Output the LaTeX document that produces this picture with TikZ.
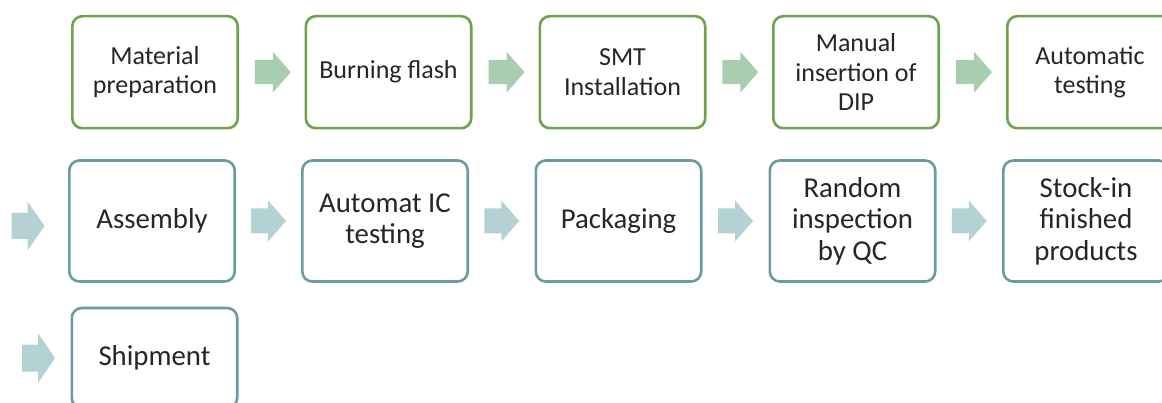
\documentclass[tikz,border=0pt]{standalone}
\usepackage{fontspec}
\setmainfont{Carlito}
\usetikzlibrary{calc}
\definecolor{gline}{HTML}{70A24A}
\definecolor{garr}{HTML}{A9CEAF}
\definecolor{tline}{HTML}{6A9C9E}
\definecolor{tarr}{HTML}{B4D2D3}
\definecolor{txt}{HTML}{262626}
\newcommand\blockarrow[6]{%
  \begin{scope}[shift={(#1)}]
    \fill[#6] ({-#2/2},{-#5/2}) -- ({#2/2-#3},{-#5/2}) -- ({#2/2-#3},{-#4/2}) -- ({#2/2},0)
      -- ({#2/2-#3},{#4/2}) -- ({#2/2-#3},{#5/2}) -- ({-#2/2},{#5/2}) -- cycle;
  \end{scope}}
\tikzset{
  box/.style={draw, line width=2.6pt, rounded corners=10pt, fill=white, inner sep=0pt,
    minimum width=165.4pt, align=center, text=txt},
  gbox/.style={box, draw=gline, minimum height=112pt, font=\fontsize{26}{29.5}\selectfont},
  tbox/.style={box, draw=tline, minimum height=121pt, font=\fontsize{28.8}{31.5}\selectfont},
}
\begin{document}
\begin{tikzpicture}[x=1pt,y=-1pt]
\useasboundingbox (0,0) rectangle (1162,403);
\clip (0,0) rectangle (1162,403);
% row 1
\node[gbox] (r1a) at (155,72.2) {Material\\preparation};
\node[gbox] (r1b) at (388.5,72.2) {Burning flash};
\node[gbox] (r1c) at (622.5,72.2) {SMT\\Installation};
\node[gbox] (r1d) at (856,72.2) {Manual\\insertion of\\DIP};
\node[gbox] (r1e) at (1090,72.2) {Automatic\\testing};
% row 2
\node[tbox] (r2a) at (152,221) {Assembly};
\node[tbox] (r2b) at (385,221) {Automat IC\\testing};
\node[tbox] (r2c) at (618.5,221) {Packaging};
\node[tbox] (r2d) at (852.5,221) {Random\\inspection\\by QC};
\node[tbox] (r2e) at (1086,221) {Stock-in\\finished\\products};
% row 3
\node[tbox, minimum height=100pt] (r3a) at (154.5,358) {Shipment};
% connectors
\foreach \a/\b in {r1a/r1b,r1b/r1c,r1c/r1d,r1d/r1e}{
  \coordinate (m) at ($(\a.east)!0.5!(\b.west)$);
  \blockarrow{$(m)+(1,0)$}{36}{18}{41}{24}{garr}
}
\foreach \a/\b in {r2a/r2b,r2b/r2c,r2c/r2d,r2d/r2e}{
  \coordinate (m) at ($(\a.east)!0.5!(\b.west)$);
  \blockarrow{m}{35}{18}{41}{25}{tarr}
}
\coordinate (s2) at ($(r2a.west)+(-40,5)$);
\blockarrow{s2}{33}{17}{49}{26}{tarr}
\coordinate (s3) at ($(r3a.west)+(-32,0)$);
\blockarrow{s3}{33}{17}{50}{27}{tarr}
\end{tikzpicture}
\end{document}
